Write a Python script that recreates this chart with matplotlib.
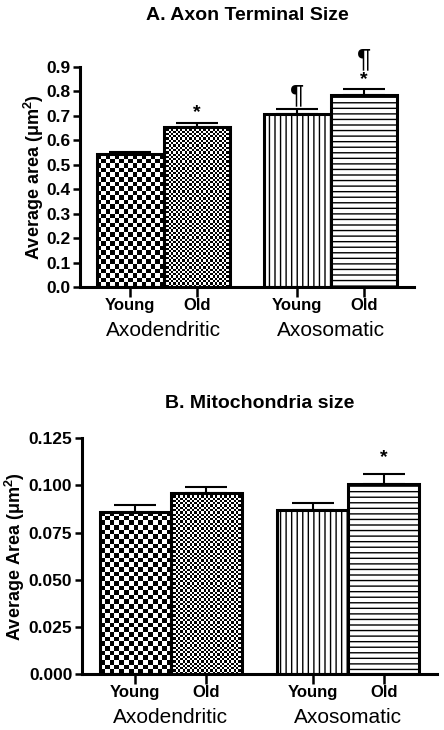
import numpy as np
import matplotlib
matplotlib.use('Agg')
import matplotlib.pyplot as plt

plt.rcParams['font.family'] = ['Liberation Sans', 'DejaVu Sans']
plt.rcParams['mathtext.default'] = 'regular'
plt.rcParams['hatch.linewidth'] = 1.0

# Data
ages = ['Young', 'Old', 'Young', 'Old']
groups = ['Axodendritic', 'Axosomatic']

terminal_mean = [0.544, 0.656, 0.707, 0.786]
terminal_err = [0.008, 0.016, 0.021, 0.023]
terminal_marks = [[], ['*'], ['¶'], ['*', '¶']]

mito_mean = [0.0861, 0.0958, 0.0870, 0.1008]
mito_err = [0.0035, 0.0035, 0.0035, 0.0053]
mito_marks = [[], [], [], ['*']]

# bar layout (bar width = 1)
xpos = [0.75, 1.75, 3.25, 4.25]
group_x = [1.25, 3.75]


def checker_fill(ax, bar, sq):
    # fill a bar with a checkerboard of sq-pixel squares, clipped to the bar
    fig = ax.figure
    fig.canvas.draw()
    bb = bar.get_window_extent()
    nx = max(1, int(round(bb.width / sq)))
    ny = max(1, int(round(bb.height / sq)))
    board = np.indices((ny, nx)).sum(axis=0) % 2
    x0, y0 = bar.get_x(), bar.get_y()
    im = ax.imshow(board, cmap='gray', interpolation='nearest', aspect='auto',
                   extent=(x0, x0 + bar.get_width(), y0, y0 + bar.get_height()),
                   zorder=1)
    im.set_clip_path(bar)


def panel(ax, means, errs, marks, ymax, yticks, fmt, ylabel, title, pad, mark_off):
    bars = ax.bar(xpos, means, width=1.0, color='white', edgecolor='black',
                  linewidth=2.2, zorder=2)
    bars[2].set_hatch('|||')
    bars[3].set_hatch('---')
    bars[0].set_facecolor('none')
    bars[1].set_facecolor('none')
    ax.errorbar(xpos, means, yerr=[np.zeros(4), errs], fmt='none',
                ecolor='black', elinewidth=1.5, capsize=15, capthick=1.5,
                zorder=1.5)
    ax.set_xlim(0, 5)
    ax.set_ylim(0, ymax)
    checker_fill(ax, bars[0], 4.6)
    checker_fill(ax, bars[1], 2.3)
    ax.set_xlim(0, 5)
    ax.set_ylim(0, ymax)

    for x, m, e, mk in zip(xpos, means, errs, marks):
        off = mark_off
        for s in mk:
            size = 14 if s == '*' else 19
            ax.annotate(s, xy=(x, m + e), xytext=(0, off), textcoords='offset points',
                        ha='center', va='bottom', fontsize=size,
                        fontweight='bold' if s == '*' else 'normal',
                        annotation_clip=False)
            off += 12 if s == '*' else 14

    ax.set_yticks(yticks)
    ax.set_yticklabels([fmt.format(t) for t in yticks], fontsize=12.5, fontweight='bold')
    ax.set_xticks(xpos)
    ax.set_xticklabels(ages, fontsize=12, fontweight='bold')
    ax.tick_params(axis='y', direction='out', length=5, width=1.8, pad=2)
    ax.tick_params(axis='x', direction='out', length=7, width=1.8, pad=1)
    for sp in ['top', 'right']:
        ax.spines[sp].set_visible(False)
    for sp in ['left', 'bottom']:
        ax.spines[sp].set_linewidth(2.2)
    for gx, g in zip(group_x, groups):
        ax.annotate(g, xy=(gx, 0), xycoords=('data', 'axes fraction'),
                    xytext=(0, -31), textcoords='offset points',
                    ha='center', va='center', fontsize=15)
    ax.set_ylabel(ylabel, fontsize=13, fontweight='bold')
    ax.set_title(title, fontsize=14, fontweight='bold', pad=pad)


fig = plt.figure(figsize=(4.44, 7.3), dpi=100)
ax1 = fig.add_axes([80 / 444, 1 - 287 / 730, 334 / 444, 220 / 730])
ax2 = fig.add_axes([82 / 444, 1 - 674 / 730, 355 / 444, 235.7 / 730])

panel(ax1, terminal_mean, terminal_err, terminal_marks, 0.9,
      np.round(np.arange(0, 0.91, 0.1), 1), '{:.1f}',
      'Average area (μm$^{2}$)', 'A. Axon Terminal Size', 34, 1)
ax1.yaxis.set_label_coords(-0.103, 0.5)

panel(ax2, mito_mean, mito_err, mito_marks, 0.125,
      np.arange(0, 0.126, 0.025), '{:.3f}',
      'Average Area (μm$^{2}$)', 'B. Mitochondria size', 22, 6)
ax2.yaxis.set_label_coords(-0.155, 0.5)

fig.savefig('out.png', dpi=100)
